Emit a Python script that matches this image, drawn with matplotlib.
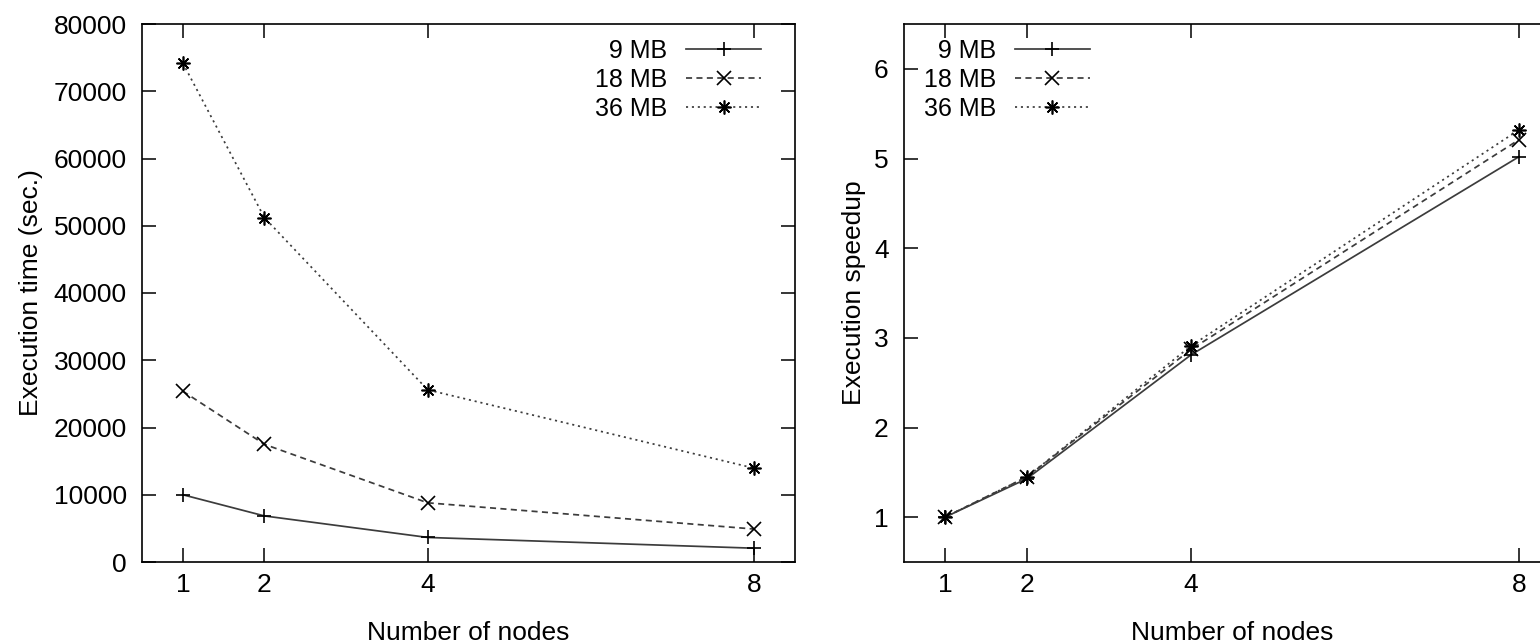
import matplotlib
matplotlib.use("Agg")
import matplotlib.pyplot as plt

plt.rcParams['font.family'] = ['Liberation Sans', 'DejaVu Sans']

nodes = [1, 2, 4, 8]
labels = ["\u20079 MB", "18 MB", "36 MB"]

time_9 = [10000, 6850, 3650, 2050]
time_18 = [25400, 17500, 8800, 4900]
time_36 = [74200, 51200, 25600, 13950]

speed_9 = [1.0, 1.43, 2.81, 5.02]
speed_18 = [1.0, 1.45, 2.87, 5.21]
speed_36 = [1.0, 1.45, 2.91, 5.32]

# gnuplot style: solid +, dashed x, dotted asterisk
styles = [
    dict(linestyle="-", marker="+"),
    dict(linestyle=(0, (3.5, 2.5)), marker="x"),
    dict(linestyle=(0, (1.2, 2.2)), marker=(8, 2, 0)),
]

W, H = 1540, 644
fig = plt.figure(figsize=(W / 100, H / 100), dpi=100)
ax1 = fig.add_axes([142 / W, (H - 562) / H, (795 - 142) / W, (562 - 24) / H])
ax2 = fig.add_axes([904 / W, (H - 562) / H, (1560 - 904) / W, (562 - 24) / H])


def draw(ax, series):
    for vals, lab, st in zip(series, labels, styles):
        ax.plot(nodes, vals, color="#3c3c3c", linewidth=1.25, markersize=10,
                markeredgewidth=1.2, markeredgecolor="black", label=lab, **st)
    ax.set_xlim(0.5, 8.5)
    ax.set_xticks(nodes)
    ax.tick_params(direction="in", length=10, width=1.1, top=True, right=True,
                   labelsize=19, colors="black")
    ax.tick_params(axis="x", pad=8)
    ax.tick_params(axis="y", pad=11)
    for s in ax.spines.values():
        s.set_linewidth(1.2)
    ax.set_xlabel("Number of nodes", fontsize=19)
    ax.xaxis.set_label_coords(0.5, -0.11)


def add_legend(ax, loc, x):
    ax.legend(loc=loc, bbox_to_anchor=(x, 0.972), frameon=False,
              markerfirst=False, numpoints=1, fontsize=18, handlelength=3.0,
              handletextpad=0.75, labelspacing=0.2, borderpad=0,
              borderaxespad=0)


draw(ax1, [time_9, time_18, time_36])
ax1.set_ylim(0, 80000)
ax1.set_yticks(range(0, 80001, 10000))
ax1.set_ylabel("Execution time (sec.)", fontsize=19)
ax1.yaxis.set_label_coords(-0.152, 0.5)
add_legend(ax1, "upper right", 0.948)

draw(ax2, [speed_9, speed_18, speed_36])
ax2.set_ylim(0.5, 6.5)
ax2.set_yticks([1, 2, 3, 4, 5, 6])
ax2.set_ylabel("Execution speedup", fontsize=19)
ax2.yaxis.set_label_coords(-0.058, 0.5)
add_legend(ax2, "upper left", 0.03)

fig.savefig("out.png", dpi=100)
